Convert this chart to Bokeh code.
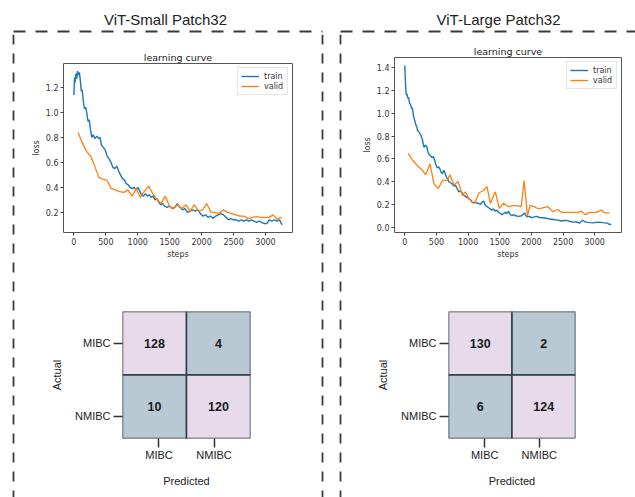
from bokeh.plotting import figure
from bokeh.layouts import row, column
from bokeh.models import Range1d, FixedTicker, PrintfTickFormatter
from bokeh.embed import file_html
from bokeh.resources import INLINE
from bokeh.core.properties import value

# ---------------- data ----------------
panel_titles = ["ViT-Small Patch32", "ViT-Large Patch32"]
classes = ["MIBC", "NMIBC"]
cm_small = [[128, 4], [10, 120]]
cm_large = [[130, 2], [6, 124]]

small_train_steps = [0, 10, 20, 30, 45, 55, 70, 85, 100, 115, 130, 150, 165, 185, 200, 220, 240, 260, 280,
                     300, 330, 360, 390, 410, 430, 460, 490, 520, 550, 580, 610, 640, 670, 700, 730, 760,
                     790, 820, 850, 880, 910, 940, 970, 1000, 1030, 1060, 1090, 1120, 1150, 1180, 1210,
                     1240, 1270, 1300, 1330, 1360, 1390, 1420, 1460, 1500, 1540, 1580, 1620, 1660, 1700,
                     1740, 1780, 1820, 1860, 1900, 1940, 1980, 2020, 2060, 2100, 2140, 2180, 2220, 2260,
                     2300, 2340, 2380, 2420, 2460, 2500, 2540, 2580, 2620, 2660, 2700, 2740, 2780, 2820,
                     2860, 2900, 2940, 2980, 3020, 3060, 3100, 3140, 3180, 3220, 3260]
small_train_loss = [1.14, 1.28, 1.24, 1.31, 1.27, 1.33, 1.30, 1.32, 1.26, 1.17, 1.18, 1.08, 1.03, 1.04, 1.00,
                    0.93, 0.94, 0.86, 0.80, 0.82, 0.79, 0.81, 0.79, 0.80, 0.74, 0.72, 0.70, 0.65, 0.63, 0.60,
                    0.56, 0.55, 0.57, 0.53, 0.50, 0.47, 0.46, 0.43, 0.42, 0.40, 0.39, 0.40, 0.38, 0.40, 0.37,
                    0.34, 0.33, 0.35, 0.33, 0.34, 0.32, 0.33, 0.30, 0.31, 0.28, 0.26, 0.27, 0.25, 0.24, 0.25,
                    0.23, 0.24, 0.27, 0.24, 0.22, 0.23, 0.20, 0.21, 0.22, 0.21, 0.22, 0.19, 0.17, 0.18, 0.16,
                    0.17, 0.15, 0.17, 0.18, 0.19, 0.18, 0.16, 0.14, 0.15, 0.14, 0.14, 0.13, 0.14, 0.13, 0.14,
                    0.13, 0.14, 0.13, 0.12, 0.13, 0.12, 0.11, 0.11, 0.14, 0.13, 0.14, 0.13, 0.14, 0.10]
small_valid_steps = [65, 130, 195, 260, 325, 390, 455, 520, 585, 650, 715, 780, 845, 910, 975, 1040, 1105,
                     1170, 1235, 1300, 1365, 1430, 1495, 1560, 1625, 1690, 1755, 1820, 1885, 1950, 2015,
                     2080, 2145, 2210, 2275, 2340, 2405, 2470, 2535, 2600, 2665, 2730, 2795, 2860, 2925,
                     2990, 3055, 3120, 3185, 3250]
small_valid_loss = [0.84, 0.76, 0.69, 0.65, 0.57, 0.48, 0.465, 0.455, 0.39, 0.38, 0.365, 0.36, 0.38, 0.33,
                    0.39, 0.32, 0.37, 0.41, 0.35, 0.30, 0.27, 0.33, 0.25, 0.23, 0.26, 0.23, 0.26, 0.21, 0.26,
                    0.21, 0.22, 0.27, 0.20, 0.20, 0.19, 0.22, 0.20, 0.19, 0.18, 0.17, 0.17, 0.15, 0.16, 0.165,
                    0.16, 0.16, 0.16, 0.18, 0.145, 0.16]

large_train_steps = [0, 8, 16, 25, 35, 47, 60, 75, 94, 110, 120, 136, 150, 173, 190, 199, 220, 240, 251, 265,
                     278, 290, 304, 320, 346, 365, 382, 400, 434, 450, 471, 490, 513, 535, 555, 575, 592, 615,
                     630, 644, 665, 680, 696, 720, 748, 775, 801, 825, 853, 880, 906, 930, 958, 985, 1010,
                     1040, 1063, 1090, 1115, 1140, 1168, 1195, 1220, 1245, 1272, 1300, 1325, 1350, 1377,
                     1400, 1430, 1455, 1482, 1510, 1534, 1560, 1587, 1610, 1639, 1665, 1691, 1720, 1750,
                     1796, 1848, 1890, 1927, 1965, 2005, 2045, 2084, 2125, 2162, 2215, 2267, 2320, 2371,
                     2420, 2476, 2515, 2555, 2610, 2660, 2710, 2764, 2801, 2835, 2869, 2920, 2974, 3025,
                     3078, 3120, 3157, 3200, 3235, 3260]
large_train_loss = [1.42, 1.30, 1.21, 1.16, 1.17, 1.13, 1.14, 1.09, 1.07, 1.04, 1.05, 0.98, 0.95, 0.90, 0.88,
                    0.85, 0.84, 0.82, 0.81, 0.79, 0.77, 0.73, 0.70, 0.72, 0.71, 0.66, 0.64, 0.63, 0.61, 0.62,
                    0.59, 0.55, 0.52, 0.53, 0.51, 0.48, 0.47, 0.50, 0.48, 0.46, 0.43, 0.42, 0.40, 0.39, 0.38,
                    0.36, 0.37, 0.34, 0.31, 0.32, 0.30, 0.28, 0.27, 0.26, 0.25, 0.24, 0.22, 0.21, 0.22, 0.21,
                    0.21, 0.20, 0.22, 0.23, 0.19, 0.18, 0.17, 0.16, 0.15, 0.16, 0.14, 0.15, 0.13, 0.12, 0.11,
                    0.12, 0.13, 0.12, 0.14, 0.11, 0.10, 0.11, 0.10, 0.095, 0.10, 0.125, 0.09, 0.095, 0.083,
                    0.09, 0.095, 0.085, 0.083, 0.08, 0.074, 0.07, 0.065, 0.062, 0.054, 0.06, 0.059, 0.05,
                    0.044, 0.045, 0.036, 0.062, 0.05, 0.044, 0.04, 0.038, 0.042, 0.044, 0.04, 0.038, 0.035,
                    0.023, 0.025]
large_valid_steps = [52, 120, 199, 278, 330, 398, 461, 529, 592, 670, 712, 775, 843, 906, 958, 1010, 1063,
                     1115, 1168, 1236, 1298, 1351, 1430, 1492, 1560, 1639, 1700, 1770, 1838, 1885, 1937,
                     1979, 2045, 2110, 2180, 2257, 2345, 2413, 2476, 2540, 2610, 2680, 2738, 2790, 2853,
                     2921, 2975, 3026, 3104, 3157, 3235]
large_valid_loss = [0.65, 0.59, 0.54, 0.50, 0.46, 0.555, 0.38, 0.34, 0.41, 0.41, 0.46, 0.37, 0.40, 0.28,
                    0.31, 0.25, 0.22, 0.22, 0.30, 0.32, 0.355, 0.21, 0.31, 0.165, 0.21, 0.18, 0.19, 0.19,
                    0.18, 0.41, 0.10, 0.19, 0.18, 0.16, 0.17, 0.18, 0.135, 0.155, 0.13, 0.13, 0.13, 0.13,
                    0.13, 0.14, 0.11, 0.13, 0.13, 0.13, 0.15, 0.125, 0.125]

step_ticks = [0, 500, 1000, 1500, 2000, 2500, 3000]
small_loss_ticks = [0.2, 0.4, 0.6, 0.8, 1.0, 1.2]
large_loss_ticks = [0.0, 0.2, 0.4, 0.6, 0.8, 1.0, 1.2, 1.4]
cm_xtick_pos = [0.57, 1.43]
cm_ytick_pos = [1.5, 0.35]

# ---------------- styles ----------------
LC_FONT = "DejaVu Sans"
CM_FONT = "Liberation Sans"
PINK = "#e7daeb"
BLUE = "#b9c9d3"
DASH_COLOR = "#3a3a3a"


def blank_fig(w, h):
    f = figure(width=w, height=h, x_range=Range1d(0, w), y_range=Range1d(h, 0),
               x_axis_location=None, y_axis_location=None, toolbar_location=None,
               output_backend="svg", min_border=0, outline_line_color=None)
    f.xgrid.visible = False
    f.ygrid.visible = False
    return f


def lc_fig(st, lt, sv, lv, yticks, w, h, borders):
    lo = min(lt + lv)
    hi = max(lt + lv)
    ypad = 0.05 * (hi - lo)
    smin = min(st + sv)
    smax = max(st + sv)
    xpad = 0.05 * (smax - smin)
    p = figure(width=w, height=h, toolbar_location=None, output_backend="svg",
               x_range=Range1d(smin - xpad, smax + xpad), y_range=Range1d(lo - ypad, hi + ypad),
               min_border_left=borders[0], min_border_right=borders[1],
               min_border_top=borders[2], min_border_bottom=borders[3],
               title="learning curve")
    p.line(st, lt, line_color="#1f77b4", line_width=1.4, legend_label="train")
    p.line(sv, lv, line_color="#ff7f0e", line_width=1.3, legend_label="valid")
    p.xgrid.visible = False
    p.ygrid.visible = False
    p.outline_line_color = "#555555"
    p.outline_line_width = 1
    p.title.align = "center"
    p.title.text_font = LC_FONT
    p.title.text_font_size = "9.5px"
    p.title.text_font_style = "normal"
    p.title.text_color = "#222222"
    p.title.standoff = 2
    p.xaxis.ticker = FixedTicker(ticks=step_ticks)
    p.xaxis.formatter = PrintfTickFormatter(format="%d")
    p.yaxis.ticker = FixedTicker(ticks=yticks)
    p.yaxis.formatter = PrintfTickFormatter(format="%.1f")
    p.xaxis.axis_label = "steps"
    p.yaxis.axis_label = "loss"
    for ax in (p.xaxis[0], p.yaxis[0]):
        ax.axis_line_color = None
        ax.major_tick_out = 3
        ax.major_tick_in = 0
        ax.major_tick_line_color = "#444444"
        ax.minor_tick_line_color = None
        ax.major_label_text_font = LC_FONT
        ax.major_label_text_font_size = "8px"
        ax.major_label_text_color = "#333333"
        ax.major_label_standoff = 2
        ax.axis_label_text_font = LC_FONT
        ax.axis_label_text_font_size = "8px"
        ax.axis_label_text_font_style = "normal"
        ax.axis_label_text_color = "#333333"
        ax.axis_label_standoff = 2
    p.legend.location = "top_right"
    p.legend.margin = 4
    p.legend.padding = 3
    p.legend.spacing = 0
    p.legend.glyph_width = 18
    p.legend.glyph_height = 10
    p.legend.label_height = 10
    p.legend.label_standoff = 5
    p.legend.label_text_font = LC_FONT
    p.legend.label_text_font_size = "8px"
    p.legend.label_text_color = "#333333"
    p.legend.border_line_color = "#cccccc"
    p.legend.background_fill_alpha = 0.8
    return p


def cm_fig(cm, w, h, borders):
    p = figure(width=w, height=h, toolbar_location=None, output_backend="svg",
               x_range=Range1d(0, 2), y_range=Range1d(0, 2),
               min_border_left=borders[0], min_border_right=borders[1],
               min_border_top=borders[2], min_border_bottom=borders[3])
    xs, ys, txt, cols = [], [], [], []
    for i in range(len(classes)):
        for j in range(len(classes)):
            v = cm[i][j]
            xs.append(j + 0.5)
            ys.append(len(classes) - i - 0.5)
            txt.append(str(v))
            cols.append(PINK if v > 50 else BLUE)
    p.rect(x=xs, y=ys, width=1, height=1, fill_color=cols, line_color="#2f3a44", line_width=1.5)
    p.text(x=xs, y=ys, text=txt, text_align="center", text_baseline="middle",
           text_font=value(CM_FONT), text_font_style="bold", text_font_size="12.5px",
           text_color="#1a1a1a")
    p.xgrid.visible = False
    p.ygrid.visible = False
    p.outline_line_color = None
    p.xaxis.ticker = FixedTicker(ticks=cm_xtick_pos)
    p.xaxis.major_label_overrides = {cm_xtick_pos[k]: classes[k] for k in range(len(classes))}
    p.yaxis.ticker = FixedTicker(ticks=cm_ytick_pos)
    p.yaxis.major_label_overrides = {cm_ytick_pos[k]: classes[k] for k in range(len(classes))}
    p.xaxis.axis_label = "Predicted"
    p.yaxis.axis_label = "Actual"
    for ax in (p.xaxis[0], p.yaxis[0]):
        ax.axis_line_color = None
        ax.major_tick_out = 9
        ax.major_tick_in = 0
        ax.major_tick_line_color = "#333333"
        ax.major_tick_line_width = 1.5
        ax.minor_tick_line_color = None
        ax.major_label_text_font = CM_FONT
        ax.major_label_text_font_size = "11px"
        ax.major_label_text_color = "#222222"
        ax.axis_label_text_font = CM_FONT
        ax.axis_label_text_font_size = "11px"
        ax.axis_label_text_font_style = "normal"
        ax.axis_label_text_color = "#222222"
    p.xaxis.major_label_standoff = 1
    p.yaxis.major_label_standoff = 3
    p.xaxis.axis_label_standoff = 11
    p.yaxis.axis_label_standoff = 9
    return p


# header: panel titles + top dashed lines
hdr = blank_fig(635, 34)
hdr.text(x=[165, 498], y=[19, 19], text=panel_titles, text_align="center", text_baseline="middle",
         text_font=value(CM_FONT), text_font_size="15px", text_color="#222222")
hdr.segment(x0=[13, 340], y0=[31, 31], x1=[322, 635], y1=[31, 31],
            line_dash="12 10", line_width=1.8, line_color=DASH_COLOR)

# vertical dashed lines
vA = blank_fig(16, 463)
vA.segment(x0=[13], y0=[0], x1=[13], y1=[463], line_dash="10 9", line_width=1.8, line_color=DASH_COLOR)
vBC = blank_fig(28, 463)
vBC.segment(x0=[3, 21], y0=[0, 0], x1=[3, 21], y1=[463, 463], line_dash="10 9", line_width=1.8,
            line_color=DASH_COLOR)

lcL = lc_fig(small_train_steps, small_train_loss, small_valid_steps, small_valid_loss,
             small_loss_ticks, 303, 228, (47, 27, 29, 30))
lcR = lc_fig(large_train_steps, large_train_loss, large_valid_steps, large_valid_loss,
             large_loss_ticks, 288, 228, (47, 14, 23, 30))
cmL = cm_fig(cm_small, 303, 235, (106, 69, 49, 59))
cmR = cm_fig(cm_large, 288, 235, (101, 60, 49, 59))

p = column(hdr, row(vA, column(row(lcL), row(cmL)), vBC, column(row(lcR), row(cmR))))

open("out.html", "w").write(file_html(p, INLINE))
